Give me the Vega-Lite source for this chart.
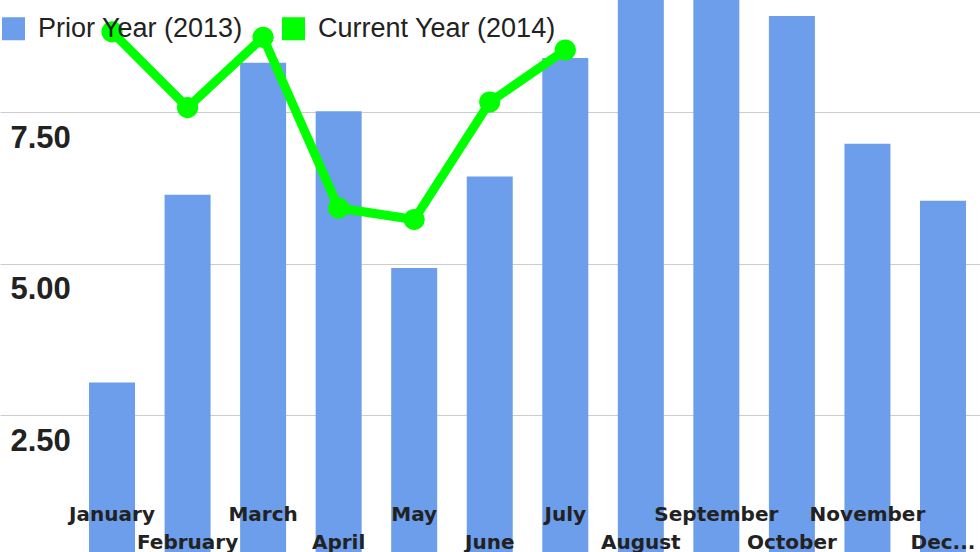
{
  "$schema": "https://vega.github.io/schema/vega-lite/v6.json",
  "width": 980,
  "height": 552,
  "autosize": {"type": "none"},
  "padding": 0,
  "background": "white",
  "config": {"view": {"stroke": null}, "font": "Liberation Sans"},
  "data": {
    "values": [
      {"month": "January", "series": "Prior Year (2013)", "value": 3.04},
      {"month": "February", "series": "Prior Year (2013)", "value": 6.14},
      {"month": "March", "series": "Prior Year (2013)", "value": 8.32},
      {"month": "April", "series": "Prior Year (2013)", "value": 7.52},
      {"month": "May", "series": "Prior Year (2013)", "value": 4.93},
      {"month": "June", "series": "Prior Year (2013)", "value": 6.44},
      {"month": "July", "series": "Prior Year (2013)", "value": 8.4},
      {"month": "August", "series": "Prior Year (2013)", "value": 9.7},
      {"month": "September", "series": "Prior Year (2013)", "value": 9.8},
      {"month": "October", "series": "Prior Year (2013)", "value": 9.09},
      {"month": "November", "series": "Prior Year (2013)", "value": 6.98},
      {"month": "December", "series": "Prior Year (2013)", "value": 6.04},
      {"month": "January", "series": "Current Year (2014)", "value": 8.83},
      {"month": "February", "series": "Current Year (2014)", "value": 7.58},
      {"month": "March", "series": "Current Year (2014)", "value": 8.74},
      {"month": "April", "series": "Current Year (2014)", "value": 5.92},
      {"month": "May", "series": "Current Year (2014)", "value": 5.73},
      {"month": "June", "series": "Current Year (2014)", "value": 7.67},
      {"month": "July", "series": "Current Year (2014)", "value": 8.53}
    ]
  },
  "encoding": {
    "x": {
      "field": "month",
      "type": "nominal",
      "sort": null,
      "scale": {"paddingInner": 0.391, "paddingOuter": 0.682, "align": 0.864},
      "axis": {
        "title": null,
        "orient": "bottom",
        "domain": false,
        "ticks": false,
        "grid": false,
        "labelAngle": 0,
        "labelFont": "DejaVu Sans",
        "labelFontWeight": "bold",
        "labelFontSize": 20,
        "labelColor": "#222222",
        "labelBaseline": "middle",
        "labelPadding": {
          "condition": {
            "test": "indexof(['February','April','June','August','October','December'], datum.value) >= 0",
            "value": -10
          },
          "value": -38
        },
        "labelOverlap": false,
        "labelBound": false,
        "labelFlush": false,
        "labelLimit": 0,
        "labelExpr": "datum.value == 'December' ? 'Dec...' : datum.label",
        "zindex": 2
      }
    },
    "y": {
      "field": "value",
      "type": "quantitative",
      "scale": {"domain": [0.24, 9.356], "zero": false, "nice": false},
      "axis": {
        "title": null,
        "values": [2.5, 5, 7.5],
        "format": ".2f",
        "domain": false,
        "ticks": false,
        "grid": true,
        "gridColor": "#cccccc",
        "labelFont": "Liberation Sans",
        "labelFontWeight": "bold",
        "labelFontSize": 31,
        "labelColor": "#222222",
        "labelAlign": "left",
        "labelPadding": -10,
        "labelOffset": 26,
        "labelBaseline": "middle",
        "zindex": 0
      }
    },
    "color": {
      "field": "series",
      "type": "nominal",
      "scale": {
        "domain": ["Prior Year (2013)", "Current Year (2014)"],
        "range": ["#6d9eeb", "#00ff00"]
      },
      "legend": {
        "title": null,
        "orient": "none",
        "legendX": 0,
        "legendY": 15,
        "direction": "horizontal",
        "symbolType": "square",
        "symbolSize": 530,
        "symbolStrokeWidth": 0,
        "symbolOpacity": 1,
        "labelFont": "Liberation Sans",
        "labelFontSize": 27,
        "labelColor": "#222222",
        "labelOffset": 11,
        "columnPadding": 37,
        "padding": 0,
        "labelLimit": 400,
        "zindex": 3
      }
    }
  },
  "layer": [
    {
      "transform": [{"filter": "datum.series == 'Prior Year (2013)'"}],
      "mark": {"type": "bar", "clip": true}
    },
    {
      "transform": [{"filter": "datum.series == 'Current Year (2014)'"}],
      "mark": {
        "type": "line",
        "strokeWidth": 9,
        "clip": true,
        "point": {"filled": true, "size": 450}
      }
    }
  ]
}
